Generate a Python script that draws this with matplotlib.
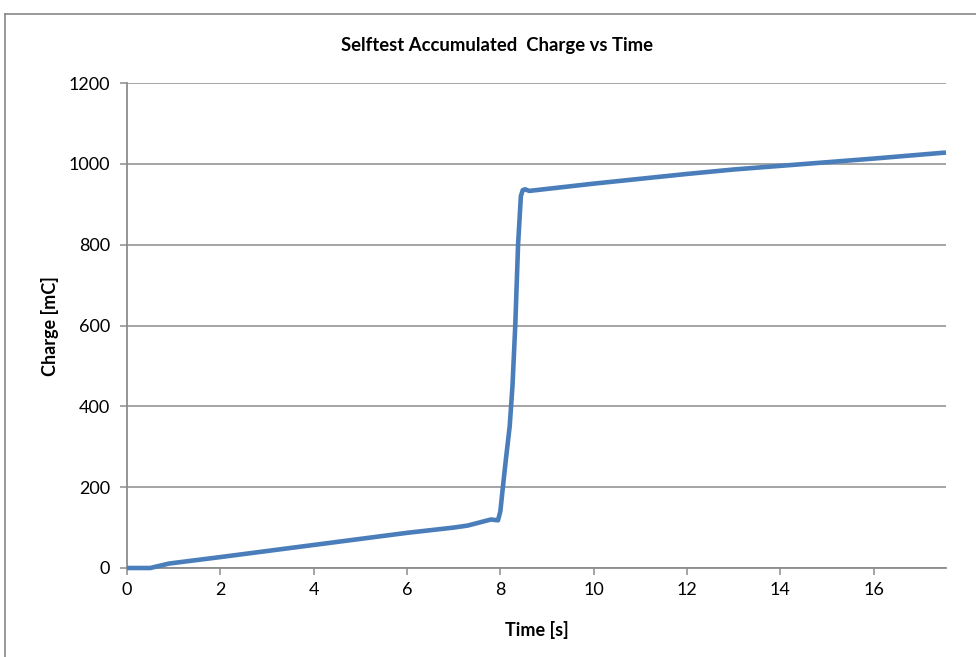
import matplotlib
matplotlib.use("Agg")
import matplotlib.pyplot as plt
from matplotlib.lines import Line2D

time_s = [0.0, 0.5, 0.9, 2.0, 4.0, 6.0, 7.0, 7.3, 7.8, 7.95, 8.0, 8.05, 8.12, 8.2, 8.26, 8.32, 8.38, 8.44, 8.48,
          8.53, 8.62, 10.0, 12.0, 13.0, 14.0, 15.0, 16.0, 17.55]
charge_mC = [0, 0, 11, 27, 57, 87, 100, 105, 120, 118, 140, 195, 270, 350, 450, 600, 800, 920, 935,
             937, 933, 951, 975, 986, 995, 1004, 1013, 1028]
x_ticks = [0, 2, 4, 6, 8, 10, 12, 14, 16]
y_ticks = [0, 200, 400, 600, 800, 1000, 1200]

plt.rcParams['font.family'] = ['Lato', 'DejaVu Sans']
W, H = 976, 657
fig = plt.figure(figsize=(W / 100, H / 100), dpi=100)
ax = fig.add_axes([127 / W, 1 - 568 / H, (946 - 127) / W, (568 - 83) / H])

grid_c = '#8c8c8c'
ax.plot(time_s, charge_mC, color='#4a7ebb', lw=3.3, solid_joinstyle='round', solid_capstyle='butt', zorder=3, clip_on=False)
ax.set_xlim(0, 17.55)
ax.set_ylim(0, 1200)
ax.set_xticks(x_ticks)
ax.set_yticks(y_ticks)
ax.grid(axis='y', color=grid_c, lw=1.1)
ax.set_axisbelow(True)
for s in ['top', 'right']:
    ax.spines[s].set_visible(False)
for s in ['left', 'bottom']:
    ax.spines[s].set_color(grid_c)
    ax.spines[s].set_linewidth(1.3)
ax.tick_params(axis='both', direction='out', length=5, width=1.1, color=grid_c, labelsize=13, labelcolor='black')
ax.tick_params(axis='y', pad=7)
ax.tick_params(axis='x', pad=5)

fig.text(497 / W, 1 - 45 / H, 'Selftest Accumulated  Charge vs Time', ha='center', va='center', fontsize=13.3, fontweight='bold')
fig.text(537 / W, 1 - 630 / H, 'Time [s]', ha='center', va='center', fontsize=13, fontweight='bold')
fig.text(50 / W, 1 - 326 / H, 'Charge [mC]', ha='center', va='center', fontsize=13, fontweight='bold', rotation=90)

# outer chart border (partially visible)
fig.add_artist(Line2D([5 / W, 1], [1 - 14 / H, 1 - 14 / H], transform=fig.transFigure, color='#888888', lw=1.2))
fig.add_artist(Line2D([5 / W, 5 / W], [1 - 14 / H, 0], transform=fig.transFigure, color='#888888', lw=1.2))

fig.savefig('out.png', dpi=100)
